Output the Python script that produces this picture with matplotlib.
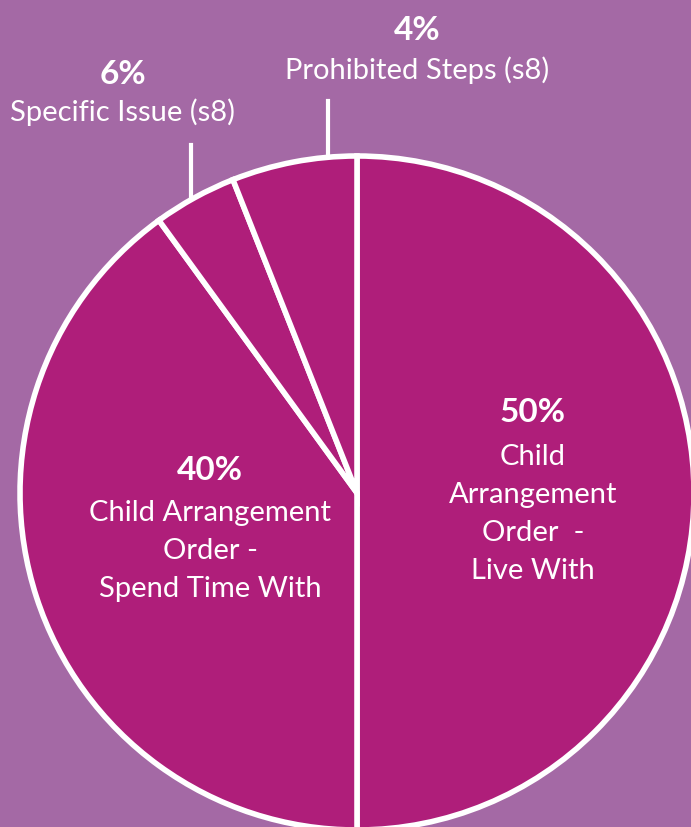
import matplotlib.pyplot as plt

# slice shares, clockwise from 12 o'clock
shares = [50, 40, 4, 6]
pcts = ["50%", "40%", "6%", "4%"]
names = [["Child", "Arrangement", "Order  -", "Live With"],
         ["Child Arrangement", "Order -", "Spend Time With"],
         ["Specific Issue (s8)"],
         ["Prohibited Steps (s8)"]]

bg = "#a469a5"
slice_col = "#af1e7a"

plt.rcParams["font.family"] = ["Lato", "DejaVu Sans"]

W, H = 691, 827
fig = plt.figure(figsize=(W / 100, H / 100), dpi=100, facecolor=bg)
ax = fig.add_axes([0, 0, 1, 1])
ax.set_facecolor(bg)

# work in pixel-like coordinates, y measured from the top
cx, cy, r = 357, 493, 337
ax.pie(shares, colors=[slice_col] * 4, startangle=90, counterclock=False,
       center=(cx, H - cy), radius=r, frame=True,
       wedgeprops=dict(edgecolor="white", linewidth=4))
ax.set_xlim(0, W)
ax.set_ylim(0, H)
ax.set_aspect("equal")
ax.axis("off")


def label(x, y, pct, lines, gap=44, step=38):
    ax.text(x, H - y, pct, ha="center", va="center", color="white",
            fontsize=24, fontweight="bold")
    for i, s in enumerate(lines):
        ax.text(x, H - (y + gap + i * step), s, ha="center", va="center",
                color="white", fontsize=21)


label(533, 413, pcts[0], names[0])
label(210, 470, pcts[1], names[1], gap=43)
label(123, 75, pcts[2], names[2], gap=37)
label(417, 30, pcts[3], names[3], gap=40)

# leader lines to the small slices
ax.plot([191, 191], [H - 145, H - 197], color="white", lw=3)
ax.plot([328, 328], [H - 101, H - 157], color="white", lw=3)

fig.savefig("out.png", dpi=100, facecolor=bg)
